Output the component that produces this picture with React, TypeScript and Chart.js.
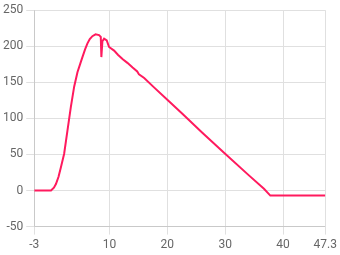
import React, { useEffect, useRef } from "react";
import { Chart, registerables } from "chart.js";

Chart.register(...registerables);

const xValues: number[] = [
  -3, -0.1, 0.4, 0.75, 1.2, 1.6, 2.17, 2.74, 3.33, 3.9, 4.47, 5.0, 5.33, 5.8, 6.2, 6.6, 7.05,
  7.6, 8.2, 8.5, 8.6, 8.78, 9.07, 9.53, 9.93, 10.8, 11.5, 12.3, 13.1, 14.0, 14.8, 15.1, 16.0,
  17.7, 20.0, 22.6, 26.0, 29.8, 34.1, 36.7, 37.8, 47.3,
];
const yValues: number[] = [
  0, 0, 4, 9, 19, 32, 51, 83, 116, 144, 164, 177, 185, 196, 204, 210, 214,
  216.5, 215.5, 213, 185, 207, 210.5, 208, 199, 194, 188, 182, 177, 170.5, 165, 161, 156,
  143, 126, 106.5, 80.5, 52.5, 21, 2.5, -7, -7,
];
const xTicks: number[] = [-3, 10, 20, 30, 40, 47.3];
const yMin = -50;
const yMax = 250;

export default function App() {
  const ref = useRef<HTMLCanvasElement | null>(null);
  useEffect(() => {
    document.body.style.margin = "0";
    const ctx = ref.current!;
    const chart = new Chart(ctx, {
      type: "line",
      data: {
        datasets: [
          {
            data: xValues.map((x, i) => ({ x, y: yValues[i] })),
            borderColor: "#ff1a5e",
            backgroundColor: "#ff1a5e",
            borderWidth: 2,
            pointRadius: 0,
            tension: 0,
          },
        ],
      },
      options: {
        animation: false,
        responsive: false,
        plugins: { legend: { display: false }, tooltip: { enabled: false } },
        layout: { padding: { top: 4, right: 12, left: 0, bottom: 0 } },
        scales: {
          x: {
            type: "linear",
            min: xTicks[0],
            max: xTicks[xTicks.length - 1],
            afterBuildTicks: (axis: any) => {
              axis.ticks = xTicks.map((v) => ({ value: v }));
            },
            ticks: {
              autoSkip: false,
              maxRotation: 0,
              color: "#666",
              font: { family: "Roboto", size: 12 },
              callback: (v: any) => String(v),
            },
            grid: { color: "#e0e0e0" },
          },
          y: {
            min: yMin,
            max: yMax,
            ticks: { stepSize: 50, color: "#666", font: { family: "Roboto", size: 12 } },
            grid: { color: "#e0e0e0" },
          },
        },
      },
    });
    return () => chart.destroy();
  }, []);
  return <canvas ref={ref} width={340} height={255} style={{ display: "block" }} />;
}
